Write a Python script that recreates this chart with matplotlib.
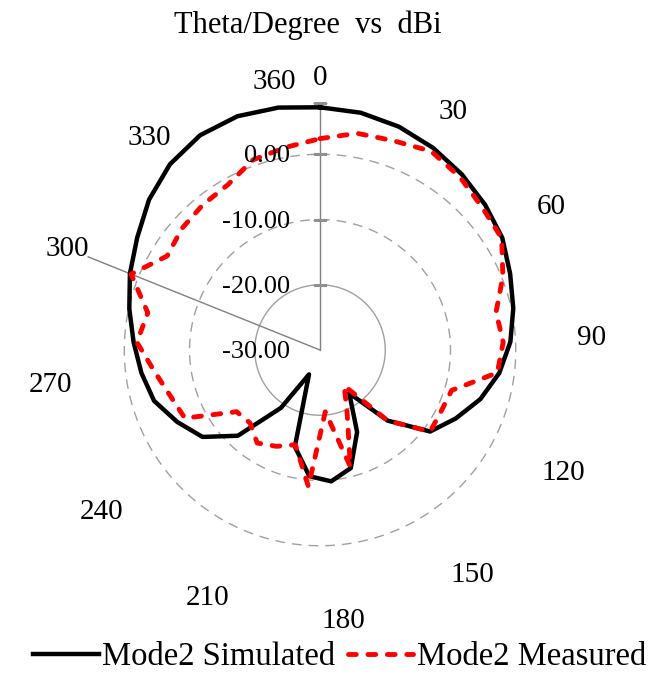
import numpy as np
import matplotlib.pyplot as plt
from matplotlib.lines import Line2D
from matplotlib.transforms import offset_copy

plt.rcParams['font.family'] = ['Liberation Serif', 'DejaVu Serif']

# theta in degrees, one category every 10 degrees (0 .. 360)
theta_deg = list(range(0, 361, 10))

simulated = [7.2, 6.9, 6.3, 5.5, 4.6, 3.7, 2.8, 1.4, 0.3, -0.8,
             -2.3, -4.3, -6.7, -9.0, -15.0, -22.0, -16.2, -11.3, -9.8, -10.6,
             -14.7, -25.9, -19.3, -11.8, -7.6, -5.5, -3.4, -2.4, -1.4, -0.1,
             1.4, 2.9, 4.9, 6.6, 7.7, 8.0, 7.7]

measured = [2.4, 3.7, 4.0, 4.9, 4.1, 3.1, 2.7, 0.2, -2.4, -1.9,
            -2.6, -8.9, -9.2, -9.0, -15.0, -23.4, -20.0, -11.5, -20.5, -9.0,
            -15.0, -13.8, -12.8, -14.5, -14.1, -6.8, -6.0, -4.4, -1.9, -3.0,
            1.2, -2.5, -1.8, -1.4, -1.0, 0.9, 1.5]

value_ticks = [-30, -20, -10, 0]
r_min, r_max = -30, 10

n = len(theta_deg)
ang = np.arange(n) * 2 * np.pi / n
ang_c = np.append(ang, ang[0])

fig = plt.figure(figsize=(6.61, 6.75), dpi=100)
ax = fig.add_axes([0.0893, 0.0948, 0.7897, 0.7733], projection='polar')
ax.set_theta_zero_location('N')
ax.set_theta_direction(-1)
ax.set_ylim(r_min, r_max)
ax.set_axis_off()

# rings
t = np.linspace(0, 2 * np.pi, 400)
ax.plot(t, np.full_like(t, -20), color='#a0a0a0', lw=1)
for lv in [-10, 0]:
    ax.plot(t, np.full_like(t, lv), color='#a0a0a0', lw=1, dashes=(7, 5))

# axis lines
ax.plot([0, 0], [r_min, 7.8], color='#808080', lw=1)
ax.plot([ang[30], ang[30]], [r_min, 8.3], color='#808080', lw=1)
ax.plot([0] * 4, [-20, -10, 0, 7.8], ls='none', marker='_', ms=10,
        mew=0.8, color='#909090')

# series
ax.plot(ang_c, simulated + simulated[:1], color='black', lw=3.2,
        solid_joinstyle='round')
ax.plot(ang_c, measured + measured[:1], color='#ff0000', lw=3.5,
        dashes=(1.6, 2.4), dash_capstyle='round', dash_joinstyle='round')

# value labels
off = offset_copy(ax.transData, fig=fig, x=-30, y=-2, units='dots')
for v in value_ticks:
    ax.text(0, v, '%.2f' % v, transform=off, ha='right', va='center',
            fontsize=19)

# category labels every 30 degrees
for i in range(0, n, 3):
    ax.text(ang[i], 11.7, str(theta_deg[i]), ha='center', va='center',
            fontsize=21)

fig.text(0.466, 0.963, 'Theta/Degree  vs  dBi', ha='center', va='center',
         fontsize=22)

handles = [Line2D([], [], color='black', lw=3.2),
           Line2D([], [], color='#ff0000', lw=3.5, dashes=(1.6, 2.4),
                  dash_capstyle='round')]
fig.legend(handles, ['Mode2 Simulated', 'Mode2 Measured'], loc='center',
           bbox_to_anchor=(0.514, 0.027), ncol=2, frameon=False,
           handlelength=2.0, handletextpad=0.1, columnspacing=0.4,
           fontsize=23.5)

fig.savefig('out.png', dpi=100)
